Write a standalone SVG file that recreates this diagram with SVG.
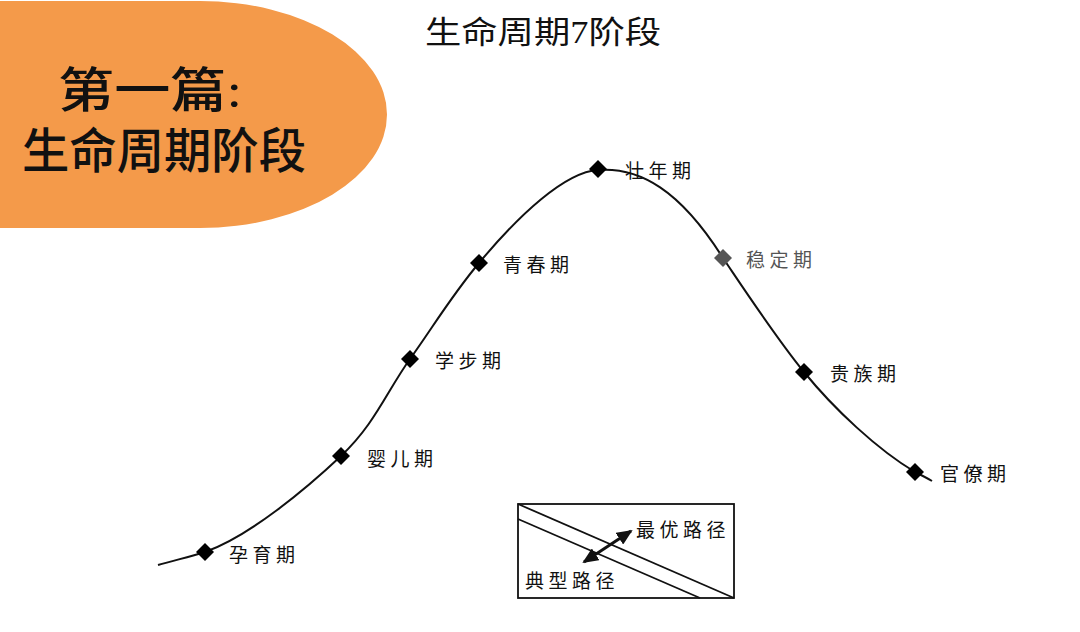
<svg xmlns="http://www.w3.org/2000/svg" width="1080" height="632" viewBox="0 0 1080 632">
<defs>
<style>
.cjk{font-family:"Liberation Serif","Noto Sans CJK SC",serif;fill:#111}
.lbl{font-size:19px;letter-spacing:4.5px}
.dm{fill:#000}
.ln{fill:none;stroke:#111;stroke-width:2}
</style>
<marker id="ah" viewBox="0 0 16 14" refX="14" refY="7" markerWidth="16" markerHeight="14" markerUnits="userSpaceOnUse" orient="auto-start-reverse">
<path d="M0,0 L16,7 L0,14 z" fill="#111"/>
</marker>
<path id="dia" d="M0,-9 L9,0 L0,9 L-9,0 z"/>
</defs>
<rect width="1080" height="632" fill="#fff"/>
<g id="banner">
<path d="M0,1 H200 A187,113.5 0 0 1 200,228 H0 z" fill="#F49A4A"/>
<text class="cjk" x="58" y="107" font-size="48" font-weight="500" textLength="184" lengthAdjust="spacingAndGlyphs">第一篇:</text>
<text class="cjk" x="22" y="168" font-size="48" font-weight="500" textLength="284" lengthAdjust="spacingAndGlyphs">生命周期阶段</text>
</g>
<g id="title">
<text class="cjk" x="425" y="43" font-size="31" textLength="236" lengthAdjust="spacingAndGlyphs">生命周期7阶段</text>
</g>
<g id="connectors">
<path class="ln" d="M158,565 C175,560 190,557 205,552 C250,536 307,488 341,456 C375,424 387,391 410,359 C433,327 452,295 479,263 C519,215 565,172 598,170 C640,167 680,190 723,258 C750,298 777,339 804,372 C834,409 878,450 915,472 C921,475 927,478 932,481"/>
</g>
<g id="n1"><use href="#dia" x="205" y="552" class="dm"/><text class="cjk lbl" x="229" y="562">孕育期</text></g>
<g id="n2"><use href="#dia" x="341" y="456" class="dm"/><text class="cjk lbl" x="367" y="466">婴儿期</text></g>
<g id="n3"><use href="#dia" x="410" y="359" class="dm"/><text class="cjk lbl" x="435" y="368">学步期</text></g>
<g id="n4"><use href="#dia" x="479" y="263" class="dm"/><text class="cjk lbl" x="503" y="272">青春期</text></g>
<g id="n5"><use href="#dia" x="598" y="169" class="dm"/><text class="cjk lbl" x="625" y="178">壮年期</text></g>
<g id="n6"><use href="#dia" x="723" y="258" fill="#555"/><text class="cjk lbl" x="746" y="267" style="fill:#555">稳定期</text></g>
<g id="n7"><use href="#dia" x="804" y="372" class="dm"/><text class="cjk lbl" x="830" y="381">贵族期</text></g>
<g id="n8"><use href="#dia" x="915" y="472" class="dm"/><text class="cjk lbl" x="940" y="481">官僚期</text></g>
<g id="legend">
<rect x="518" y="504" width="216" height="94" fill="none" stroke="#111" stroke-width="1.8"/>
<line x1="518" y1="504" x2="734" y2="598" stroke="#111" stroke-width="1.8"/>
<line x1="518" y1="519" x2="700" y2="598" stroke="#111" stroke-width="1.8"/>
<line x1="584" y1="562" x2="631" y2="531" stroke="#111" stroke-width="3" marker-start="url(#ah)" marker-end="url(#ah)"/>
<text class="cjk" x="636" y="537" font-size="19" letter-spacing="4.5">最优路径</text>
<text class="cjk" x="525" y="588" font-size="19" letter-spacing="4.5">典型路径</text>
</g>
</svg>
